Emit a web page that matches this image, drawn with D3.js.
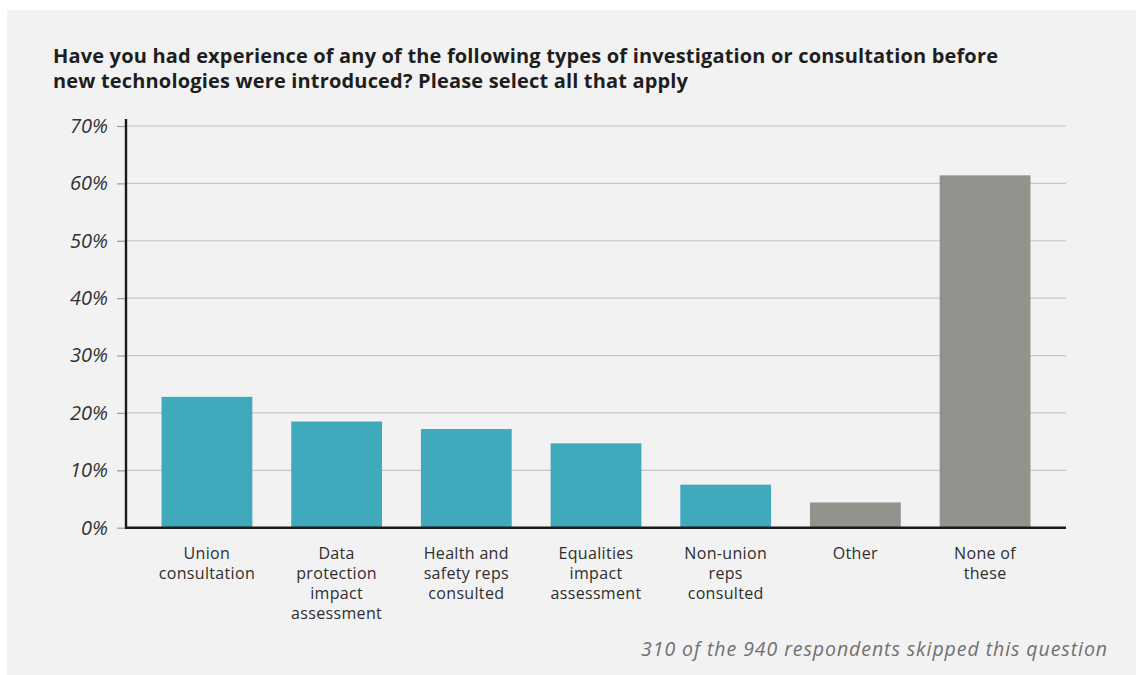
<!DOCTYPE html>
<html>
<head>
<meta charset="utf-8">
<script src="https://cdn.jsdelivr.net/npm/d3@7"></script>
<style>
  html, body { margin: 0; padding: 0; background: #ffffff; }
  svg { display: block; }
  text { font-family: "Open Sans", Lato, sans-serif; }
</style>
</head>
<body>
<svg id="chart" width="1136" height="675"></svg>
<script>
// Survey responses: consultation before new technologies were introduced
const categories = [
  ["Union", "consultation"],
  ["Data", "protection", "impact", "assessment"],
  ["Health and", "safety reps", "consulted"],
  ["Equalities", "impact", "assessment"],
  ["Non-union", "reps", "consulted"],
  ["Other"],
  ["None of", "these"]
];
const shares = [22.8, 18.5, 17.2, 14.7, 7.5, 4.4, 61.4];
const barGroups = ["yes", "yes", "yes", "yes", "yes", "no", "no"];
const yTicks = [0, 10, 20, 30, 40, 50, 60, 70];
const titleLines = [
  "Have you had experience of any of the following types of investigation or consultation before",
  "new technologies were introduced? Please select all that apply"
];
const footnote = "310 of the 940 respondents skipped this question";

const svg = d3.select("#chart");
const colours = { yes: "#3eaabb", no: "#93928d" };

// widen a text run by letter-spacing so that it spans the given width
function spacingFor(node, width) {
  const w = node.getComputedTextLength();
  const n = node.textContent.length;
  return (width - w) / Math.max(1, n - 1);
}

// panel background
svg.append("rect")
  .attr("x", 7).attr("y", 10)
  .attr("width", 1129).attr("height", 665)
  .attr("fill", "#f2f2f2");

// title
const title = svg.append("g")
  .attr("font-size", 20)
  .attr("font-weight", 700)
  .attr("fill", "#1e1e1e");
const titleText = title.selectAll("text")
  .data(titleLines)
  .join("text")
  .attr("x", 53).attr("y", (d, i) => 63 + i * 25)
  .text(d => d);
const titleSpacing = spacingFor(titleText.node(), 945);
titleText.attr("letter-spacing", titleSpacing);

const plotLeft = 126, plotRight = 1066, plotTop = 126, plotBottom = 527.7;
const ids = categories.map((c, i) => i);

const x = d3.scaleBand()
  .domain(ids)
  .range([plotLeft, plotRight])
  .paddingInner(0.3)
  .paddingOuter(0.274);

const y = d3.scaleLinear()
  .domain([0, 70])
  .range([plotBottom, plotTop]);

// gridlines
svg.append("g")
  .selectAll("line")
  .data(yTicks.filter(t => t > 0))
  .join("line")
  .attr("x1", plotLeft).attr("x2", plotRight)
  .attr("y1", d => y(d)).attr("y2", d => y(d))
  .attr("stroke", "#c6c6c6")
  .attr("stroke-width", 1.2);

// bars
svg.append("g")
  .selectAll("rect")
  .data(shares)
  .join("rect")
  .attr("x", (d, i) => x(i))
  .attr("width", x.bandwidth())
  .attr("y", d => y(d))
  .attr("height", d => y(0) - y(d))
  .attr("fill", (d, i) => colours[barGroups[i]]);

// y axis
const yAxis = svg.append("g")
  .attr("transform", `translate(${plotLeft},0)`)
  .call(d3.axisLeft(y).tickValues(yTicks).tickFormat(d => d + "%").tickSize(9).tickPadding(9));
yAxis.select(".domain").remove();
yAxis.selectAll(".tick line").attr("stroke", "#9a9a9a").attr("stroke-width", 1.2);
yAxis.selectAll(".tick text")
  .attr("font-family", "'Open Sans', sans-serif")
  .attr("font-style", "italic")
  .attr("font-size", 20)
  .attr("fill", "#333333");
svg.append("line")
  .attr("x1", plotLeft).attr("x2", plotLeft)
  .attr("y1", 119).attr("y2", plotBottom + 1)
  .attr("stroke", "#1a1a1a").attr("stroke-width", 2.4);

// x axis baseline
svg.append("line")
  .attr("x1", plotLeft - 1).attr("x2", plotRight)
  .attr("y1", plotBottom).attr("y2", plotBottom)
  .attr("stroke", "#1a1a1a").attr("stroke-width", 2.4);

// category labels
const labels = svg.append("g")
  .attr("font-size", 16)
  .attr("fill", "#2e2e2e")
  .selectAll("text")
  .data(categories)
  .join("text")
  .attr("x", (d, i) => x(i) + x.bandwidth() / 2)
  .attr("y", 559)
  .attr("text-anchor", "middle");
labels.selectAll("tspan")
  .data(d => d)
  .join("tspan")
  .attr("x", function () { return d3.select(this.parentNode).attr("x"); })
  .attr("dy", (d, i) => i === 0 ? 0 : 20)
  .text(d => d);
// letter spacing taken from the "consultation" line
const refLine = labels.selectAll("tspan").filter(d => d === "consultation").node();
const labelSpacing = spacingFor(refLine, 96);
labels.attr("letter-spacing", labelSpacing);

// footnote
const note = svg.append("text")
  .attr("x", 1108).attr("y", 656)
  .attr("text-anchor", "end")
  .attr("font-style", "italic")
  .attr("font-size", 19.5)
  .attr("fill", "#707070")
  .text(footnote);
note.attr("letter-spacing", spacingFor(note.node(), 466));
</script>
</body>
</html>
